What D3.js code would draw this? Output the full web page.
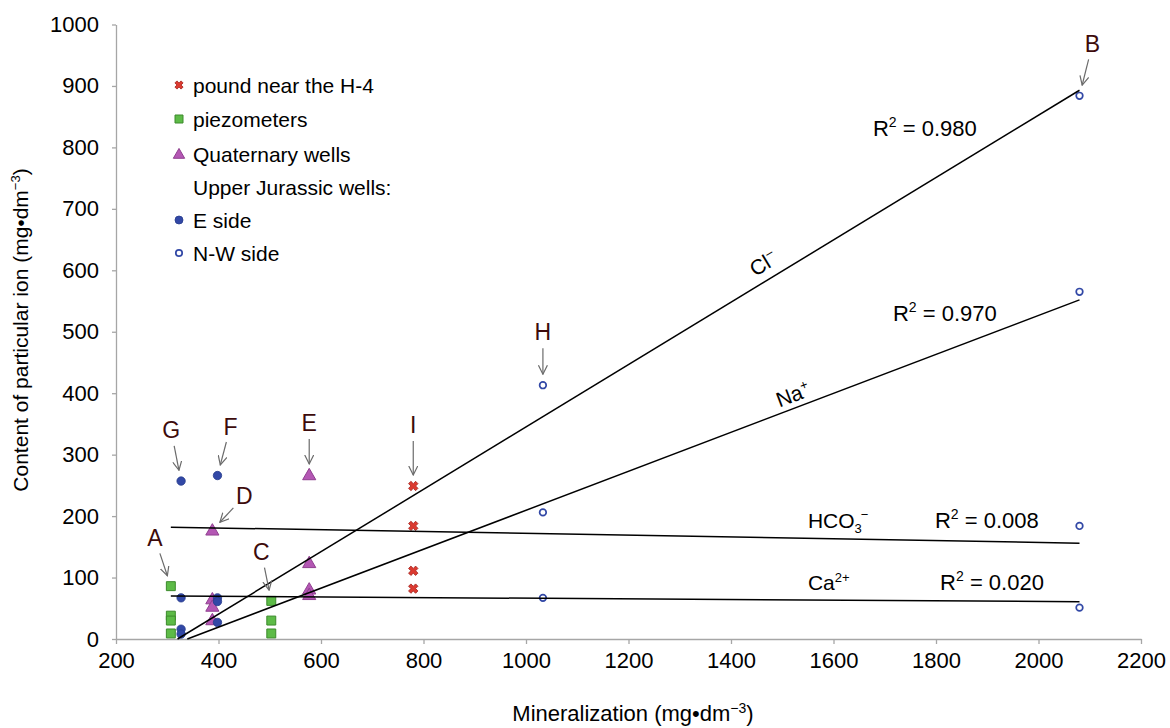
<!DOCTYPE html>
<html>
<head>
<meta charset="utf-8">
<script src="https://cdn.jsdelivr.net/npm/d3@7"></script>
<style>
body { margin: 0; background: #fff; }
text { font-family: "Liberation Sans", Arial, sans-serif; }
</style>
</head>
<body>
<svg id="chart" width="1170" height="728"></svg>
<script>
// values (mineralization vs ion content, mg/dm3)
var poundX = [780, 780, 780, 780];
var poundY = [249, 184, 111, 82];

var piezoX = [307, 307, 307, 307, 503, 503, 503];
var piezoY = [86, 38, 30, 9, 62, 30, 9];

var quatX = [388, 388, 388, 388, 577, 577, 577, 577];
var quatY = [177, 65, 53, 31, 267, 124, 81, 72];

var eSideX = [327, 327, 327, 327, 398, 398, 398, 398];
var eSideY = [257, 67, 16, 8, 266, 67, 61, 27];

var nwSideX = [1033, 1033, 1033, 2080, 2080, 2080, 2080];
var nwSideY = [413, 206, 67, 884, 565, 184, 51];

// linear trend lines
var trendIon = ["Cl", "Na", "HCO3", "Ca"];
var trendSlope = [0.5074, 0.317, -0.01466, -0.00525];
var trendIntercept = [-162.4, -107.5, 186.5, 71.6];
var trendR2 = ["0.980", "0.970", "0.008", "0.020"];
var trendXRange = [307, 2080];

// R2 label anchors (data units)
var r2LabelX = [1677, 1716, 1798, 1808];
var r2LabelY = [818, 517, 181, 80];

// sample letters
var annLabel = ["A", "B", "C", "D", "E", "F", "G", "H", "I"];
var annX = [307, 2080, 503, 388, 577, 398, 327, 1033, 780];
var annY = [86, 884, 62, 177, 267, 266, 257, 413, 249];
var annDx = [-16, 13, -10, 32, 0, 13, -10, 0, 0];
var annDy = [48, 52, 49, 34, 52, 49, 51, 53, 61];

var xTicks = d3.range(200, 2201, 200);
var yTicks = d3.range(0, 1001, 100);

var svg = d3.select("#chart");

var x = d3.scaleLinear().domain([200, 2200]).range([116, 1141]);
var y = d3.scaleLinear().domain([0, 1000]).range([639, 24.5]);

var axisColor = "#a6a6a6";

//************ axes ************
var gY = svg.append("g")
  .attr("transform", "translate(" + x(200) + ",0)")
  .call(d3.axisLeft(y).tickValues(yTicks).tickFormat(d3.format("d"))
    .tickSize(4).tickSizeOuter(0).tickPadding(13));
var gX = svg.append("g")
  .attr("transform", "translate(0," + y(0) + ")")
  .call(d3.axisBottom(x).tickValues(xTicks).tickFormat(d3.format("d"))
    .tickSize(5).tickSizeOuter(0).tickPadding(8));

[gX, gY].forEach(function(g){
  g.select(".domain").attr("stroke", axisColor).attr("stroke-width", 1.3);
  g.selectAll(".tick line").attr("stroke", axisColor).attr("stroke-width", 1.3);
  g.selectAll(".tick text")
    .attr("fill", "#000")
    .style("font-size", "22px")
    .style("font-family", "'Liberation Sans', Arial, sans-serif");
});

// axis titles
var yTitle = svg.append("text")
  .attr("transform", "translate(28,330) rotate(-90)")
  .attr("text-anchor", "middle")
  .style("font-size", "21px");
yTitle.append("tspan").text("Content of particular ion (mg\u2022dm");
yTitle.append("tspan").attr("dy", -8).style("font-size", "13px").text("\u22123");
yTitle.append("tspan").attr("dy", 8).text(")");

var xTitle = svg.append("text")
  .attr("x", 633).attr("y", 721)
  .attr("text-anchor", "middle")
  .style("font-size", "22px");
xTitle.append("tspan").text("Mineralization (mg\u2022dm");
xTitle.append("tspan").attr("dy", -8).style("font-size", "14px").text("\u22123");
xTitle.append("tspan").attr("dy", 8).text(")");

//************ points ************
function pts(xs, ys){
  return xs.map(function(d, i){ return {x: d, y: ys[i]}; });
}

var symCross = d3.symbol().type(d3.symbolCross).size(55);
var symSquare = d3.symbol().type(d3.symbolSquare).size(80);
var symTri = d3.symbol().type(d3.symbolTriangle).size(75);

svg.append("g").selectAll("path")
  .data(pts(piezoX, piezoY)).enter().append("path")
  .attr("d", symSquare)
  .attr("transform", function(d){ return "translate(" + x(d.x) + "," + y(d.y) + ")"; })
  .attr("fill", "#5dbb47").attr("stroke", "#3c8a2c").attr("stroke-width", 1);

svg.append("g").selectAll("path")
  .data(pts(quatX, quatY)).enter().append("path")
  .attr("d", symTri)
  .attr("transform", function(d){ return "translate(" + x(d.x) + "," + (y(d.y) + 1) + ")"; })
  .attr("fill", "#b457b4").attr("stroke", "#8f3f8f").attr("stroke-width", 1);

svg.append("g").selectAll("path")
  .data(pts(poundX, poundY)).enter().append("path")
  .attr("d", symCross)
  .attr("transform", function(d){ return "translate(" + x(d.x) + "," + y(d.y) + ") rotate(45)"; })
  .attr("fill", "#dc3a30").attr("stroke", "#a52620").attr("stroke-width", 0.8);

svg.append("g").selectAll("circle")
  .data(pts(eSideX, eSideY)).enter().append("circle")
  .attr("cx", function(d){ return x(d.x); })
  .attr("cy", function(d){ return y(d.y); })
  .attr("r", 4.2)
  .attr("fill", "#3248a6").attr("stroke", "#263b8c").attr("stroke-width", 0.8);

svg.append("g").selectAll("circle")
  .data(pts(nwSideX, nwSideY)).enter().append("circle")
  .attr("cx", function(d){ return x(d.x); })
  .attr("cy", function(d){ return y(d.y); })
  .attr("r", 3.3)
  .attr("fill", "#fff").attr("stroke", "#3248a6").attr("stroke-width", 1.7);

//************ trend lines ************
var trends = trendIon.map(function(ion, i){
  var m = trendSlope[i], b = trendIntercept[i];
  var x0 = trendXRange[0];
  if (m * x0 + b < 0) x0 = -b / m; // clipped at axis minimum
  var x1 = trendXRange[1];
  return {ion: ion, m: m, b: b, x0: x0, x1: x1, r2: trendR2[i], lx: r2LabelX[i], ly: r2LabelY[i]};
});

var line = d3.line()
  .x(function(d){ return x(d[0]); })
  .y(function(d){ return y(d[1]); });

svg.append("g").selectAll("path")
  .data(trends).enter().append("path")
  .attr("d", function(t){ return line([[t.x0, t.m * t.x0 + t.b], [t.x1, t.m * t.x1 + t.b]]); })
  .attr("fill", "none").attr("stroke", "#000").attr("stroke-width", 1.5);

// R2 labels
trends.forEach(function(t){
  var tx = svg.append("text")
    .attr("x", x(t.lx)).attr("y", y(t.ly))
    .style("font-size", "22px");
  tx.append("tspan").text("R");
  tx.append("tspan").attr("dy", -9).style("font-size", "14px").text("2");
  tx.append("tspan").attr("dy", 9).text(" = " + t.r2);
});

// ion labels along sloped lines
function slopedLabel(t, xv, off, parts){
  var px = x(xv), py = y(t.m * xv + t.b);
  var ang = Math.atan2(y(t.m * t.x1 + t.b) - y(t.m * t.x0 + t.b), x(t.x1) - x(t.x0)) * 180 / Math.PI;
  var tx = svg.append("text")
    .attr("transform", "translate(" + px + "," + py + ") rotate(" + ang + ")")
    .attr("y", -off)
    .attr("text-anchor", "middle")
    .style("font-size", "21px");
  parts(tx);
}
slopedLabel(trends[0], 1480, 9, function(tx){
  tx.append("tspan").text("Cl");
  tx.append("tspan").attr("dy", -8).style("font-size", "14px").text("\u2212");
});
slopedLabel(trends[1], 1530, 6, function(tx){
  tx.append("tspan").text("Na");
  tx.append("tspan").attr("dy", -8).style("font-size", "13px").text("+");
});

var hco = svg.append("text").attr("x", x(1550)).attr("y", y(181)).style("font-size", "21px");
hco.append("tspan").text("HCO");
hco.append("tspan").attr("dy", 5).style("font-size", "13px").text("3");
hco.append("tspan").attr("dy", -14).attr("dx", -1).style("font-size", "13px").text("\u2212");

var ca = svg.append("text").attr("x", x(1550)).attr("y", y(80)).style("font-size", "21px");
ca.append("tspan").text("Ca");
ca.append("tspan").attr("dy", -8).style("font-size", "13px").text("2+");

//************ sample letters + arrows ************
svg.append("defs").append("marker")
  .attr("id", "arrowhead")
  .attr("viewBox", "0 0 10 10")
  .attr("refX", 9).attr("refY", 5)
  .attr("markerWidth", 10).attr("markerHeight", 10)
  .attr("markerUnits", "userSpaceOnUse")
  .attr("orient", "auto")
  .append("path")
  .attr("d", "M0,0.5 L9,5 L0,9.5")
  .attr("fill", "none").attr("stroke", "#6b6b6b").attr("stroke-width", 1.2);

annLabel.forEach(function(lab, i){
  var tx = x(annX[i]), ty = y(annY[i]);
  var lx = tx + annDx[i], ly = ty - annDy[i];
  var vx = tx - lx, vy = ty - ly;
  var len = Math.sqrt(vx * vx + vy * vy);
  var ux = vx / len, uy = vy / len;
  svg.append("line")
    .attr("x1", lx + ux * 16).attr("y1", ly + uy * 16)
    .attr("x2", tx - ux * 11).attr("y2", ty - uy * 11)
    .attr("stroke", "#6b6b6b").attr("stroke-width", 1.2)
    .attr("marker-end", "url(#arrowhead)");
  svg.append("text")
    .attr("x", lx).attr("y", ly)
    .attr("text-anchor", "middle")
    .attr("dominant-baseline", "central")
    .attr("fill", "#3d0b0b")
    .style("font-size", "23px")
    .text(lab);
});

//************ legend ************
var legendItems = [
  {t: "pound near the H-4", k: "cross"},
  {t: "piezometers", k: "square"},
  {t: "Quaternary wells", k: "tri"},
  {t: "Upper Jurassic wells:", k: "none"},
  {t: "E side", k: "dot"},
  {t: "N-W side", k: "ring"}
];
var legendRowY = [85, 119, 154, 187, 220, 253];

var lg = svg.append("g");
legendItems.forEach(function(it, i){
  var cy = legendRowY[i], cx = 179;
  if (it.k == "cross") {
    lg.append("path").attr("d", d3.symbol().type(d3.symbolCross).size(42))
      .attr("transform", "translate(" + cx + "," + cy + ") rotate(45)")
      .attr("fill", "#dc3a30").attr("stroke", "#a52620").attr("stroke-width", 0.8);
  } else if (it.k == "square") {
    lg.append("path").attr("d", d3.symbol().type(d3.symbolSquare).size(64))
      .attr("transform", "translate(" + cx + "," + cy + ")")
      .attr("fill", "#5dbb47").attr("stroke", "#3c8a2c");
  } else if (it.k == "tri") {
    lg.append("path").attr("d", d3.symbol().type(d3.symbolTriangle).size(56))
      .attr("transform", "translate(" + cx + "," + (cy + 1) + ")")
      .attr("fill", "#b457b4").attr("stroke", "#8f3f8f");
  } else if (it.k == "dot") {
    lg.append("circle").attr("cx", cx).attr("cy", cy).attr("r", 4)
      .attr("fill", "#3248a6").attr("stroke", "#263b8c").attr("stroke-width", 0.8);
  } else if (it.k == "ring") {
    lg.append("circle").attr("cx", cx).attr("cy", cy).attr("r", 3.2)
      .attr("fill", "#fff").attr("stroke", "#3248a6").attr("stroke-width", 1.7);
  }
  lg.append("text")
    .attr("x", 193).attr("y", cy)
    .attr("dominant-baseline", "central")
    .style("font-size", "21px")
    .text(it.t);
});
</script>
</body>
</html>
